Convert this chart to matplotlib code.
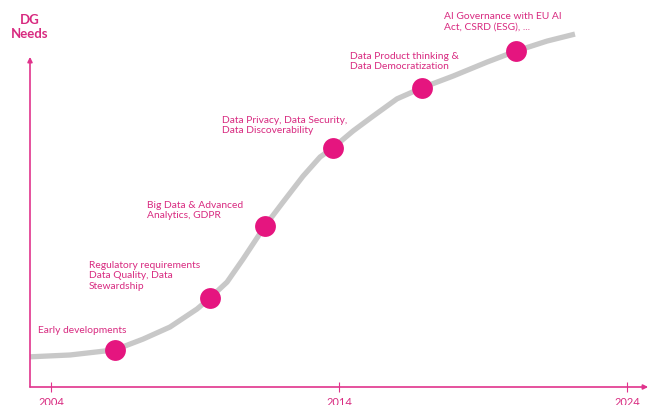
import matplotlib
matplotlib.use('Agg')
import matplotlib.pyplot as plt

# Maturity curve (year, level 0-100)
curve_year = [2003.27, 2004.66, 2006.22, 2007.19, 2008.13, 2009.07, 2009.52, 2010.11,
              2010.67, 2011.43, 2012.06, 2012.75, 2013.34, 2013.79, 2014.49, 2015.18,
              2016.01, 2016.88, 2017.96, 2019.14, 2020.15, 2021.22, 2022.19]
curve_level = [8.2, 8.7, 10.1, 13.0, 16.3, 21.2, 24.2, 28.5,
               34.8, 43.8, 50.3, 57.3, 62.5, 65.0, 69.6, 73.6,
               78.3, 81.3, 84.5, 88.3, 91.3, 94.0, 95.9]

# Milestones on the curve
milestone_year = [2006.22, 2009.52, 2011.43, 2013.79, 2016.88, 2020.15]
milestone_level = [10.1, 24.2, 43.8, 65.0, 81.3, 91.3]
milestone_labels = [
    'Early developments',
    'Regulatory requirements\nData Quality, Data\nStewardship',
    'Big Data & Advanced\nAnalytics, GDPR',
    'Data Privacy, Data Security,\nData Discoverability',
    'Data Product thinking &\nData Democratization',
    'AI Governance with EU AI\nAct, CSRD (ESG), ...',
]

tick_years = [2004, 2014, 2024]

# label offsets from each dot (pixels)
label_offsets = [(-77, 25), (-121, 38), (-118, 26), (-111, 33), (-72, 37), (-72, 40)]

pink_dot = '#e5157f'
pink_text = '#d82a80'
pink_axis = '#e0338c'

plt.rcParams['font.family'] = ['Lato', 'DejaVu Sans']

fig = plt.figure(figsize=(6.49, 4.06), dpi=100)
ax = fig.add_axes([30 / 649, 18 / 406, 619 / 649, 368 / 406])
x0, x1 = 2003.27, 2024.76
ax.set_xlim(x0, x1)
ax.set_ylim(0, 100)
for s in ax.spines.values():
    s.set_visible(False)

ax.plot(curve_year, curve_level, color='#c8c8c8', linewidth=3.8,
        solid_capstyle='butt', solid_joinstyle='round', zorder=2)
ax.plot(milestone_year, milestone_level, 'o', color=pink_dot, markersize=15,
        markeredgewidth=0, zorder=3)

for yr, lv, txt, (dx, dy) in zip(milestone_year, milestone_level,
                                 milestone_labels, label_offsets):
    ax.annotate(txt, xy=(yr, lv), xytext=(dx, dy), textcoords='offset pixels',
                ha='left', va='top', fontsize=7.4, color=pink_text,
                linespacing=1.2)

# axes with arrows
ax.annotate('', xy=(x1 - 0.03, 0), xytext=(x0, 0),
            arrowprops=dict(arrowstyle='-|>', color=pink_axis, lw=1.2,
                            mutation_scale=7, shrinkA=0, shrinkB=0),
            annotation_clip=False)
ax.annotate('', xy=(x0, 89.7), xytext=(x0, 0),
            arrowprops=dict(arrowstyle='-|>', color=pink_axis, lw=1.2,
                            mutation_scale=7, shrinkA=0, shrinkB=0),
            annotation_clip=False)

ax.set_xticks(tick_years)
ax.set_xticklabels([str(t) for t in tick_years])
ax.set_yticks([])
ax.tick_params(axis='x', direction='inout', length=6.5, width=0.8,
               color=pink_axis, labelcolor=pink_text, labelsize=8, pad=3)

fig.text(30 / 649, 1 - 27 / 406, 'DG\nNeeds', ha='center', va='center',
         fontsize=9.5, fontweight='bold', color=pink_text, linespacing=1.3)

plt.savefig('out.png', dpi=100)
